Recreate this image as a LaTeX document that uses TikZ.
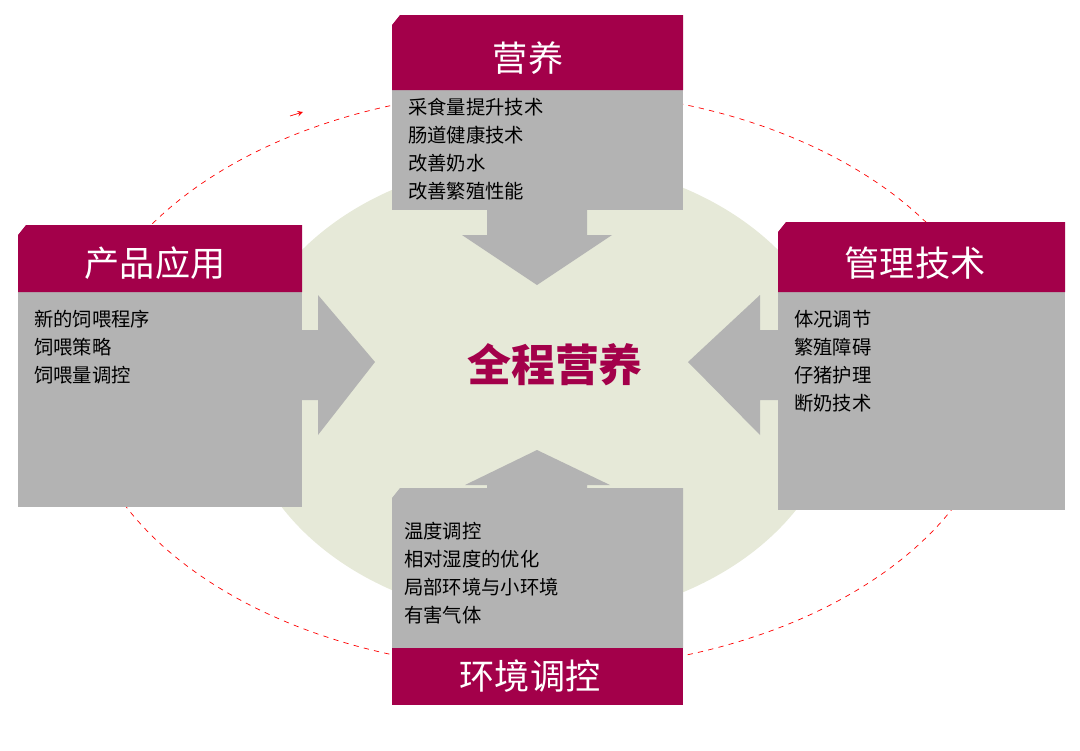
\documentclass[tikz,border=0pt]{standalone}
\usepackage{fontspec}
\setmainfont{Noto Sans CJK SC}
\usetikzlibrary{shapes,arrows,positioning,calc}
\definecolor{crim}{HTML}{A3004A}
\definecolor{boxgray}{HTML}{B3B3B3}
\definecolor{pale}{HTML}{E6E9D8}

\begin{document}
\begin{tikzpicture}[x=0.02cm,y=-0.02cm,
    head/.style={fill=crim, draw=none},
    body/.style={fill=boxgray, draw=none},
    headtext/.style={text=white, font=\fontsize{20}{24}\selectfont},
    bodytext/.style={anchor=north west, align=left, font=\fontsize{11}{16}\selectfont},
    bigarrow/.style={fill=boxgray, draw=none}
]
    \useasboundingbox (0,0) rectangle (1080,751);
    % background ellipses
    \fill[pale] (540,390) ellipse [x radius=300, y radius=230];
    \draw[red, dashed, thin] (540,380) ellipse [x radius=460, y radius=290];
    \draw[red, -stealth] (290,116) -- (303,112);

    % arrows
    \fill[bigarrow] (487,205) -- (587,205) -- (587,235) -- (612,235) -- (537,285) -- (462,235) -- (487,235) -- cycle;
    \fill[bigarrow] (298,330) -- (318,330) -- (318,295) -- (375,362) -- (318,435) -- (318,400) -- (298,400) -- cycle;
    \fill[bigarrow] (780,330) -- (760,330) -- (760,295) -- (688,362) -- (760,435) -- (760,400) -- (780,400) -- cycle;
    \fill[bigarrow] (487,495) -- (587,495) -- (587,485) -- (610,485) -- (537,450) -- (465,485) -- (487,485) -- cycle;

    % top box
    \fill[body] (392,90) rectangle (683,210);
    \fill[head] (400,15) -- (683,15) -- (683,90) -- (392,90) -- (392,25) -- cycle;
    \node[headtext] (nutri) at (528,58) {营养};
    \node[bodytext] (nutrilist) at (402,92) {采食量提升技术\\肠道健康技术\\改善奶水\\改善繁殖性能};

    % left box
    \fill[body] (18,292) rectangle (302,507);
    \fill[head] (26,225) -- (302,225) -- (302,292) -- (18,292) -- (18,235) -- cycle;
    \node[headtext] (prod) at (155,263) {产品应用};
    \node[bodytext] (prodlist) at (28,304) {新的饲喂程序\\饲喂策略\\饲喂量调控};

    % right box
    \fill[body] (778,292) rectangle (1065,510);
    \fill[head] (786,222) -- (1065,222) -- (1065,292) -- (778,292) -- (778,232) -- cycle;
    \node[headtext] (mgmt) at (915,263) {管理技术};
    \node[bodytext] (mgmtlist) at (788,304) {体况调节\\繁殖障碍\\仔猪护理\\断奶技术};

    % bottom box
    \fill[body] (400,488) -- (683,488) -- (683,648) -- (392,648) -- (392,498) -- cycle;
    \fill[head] (392,648) rectangle (683,705);
    \node[headtext] (env) at (530,676) {环境调控};
    \node[bodytext] (envlist) at (398,516) {温度调控\\相对湿度的优化\\局部环境与小环境\\有害气体};

    % centre
    \node[text=crim, font=\fontsize{25}{30}\selectfont\bfseries] (core) at (555,365) {全程营养};
\end{tikzpicture}
\end{document}
